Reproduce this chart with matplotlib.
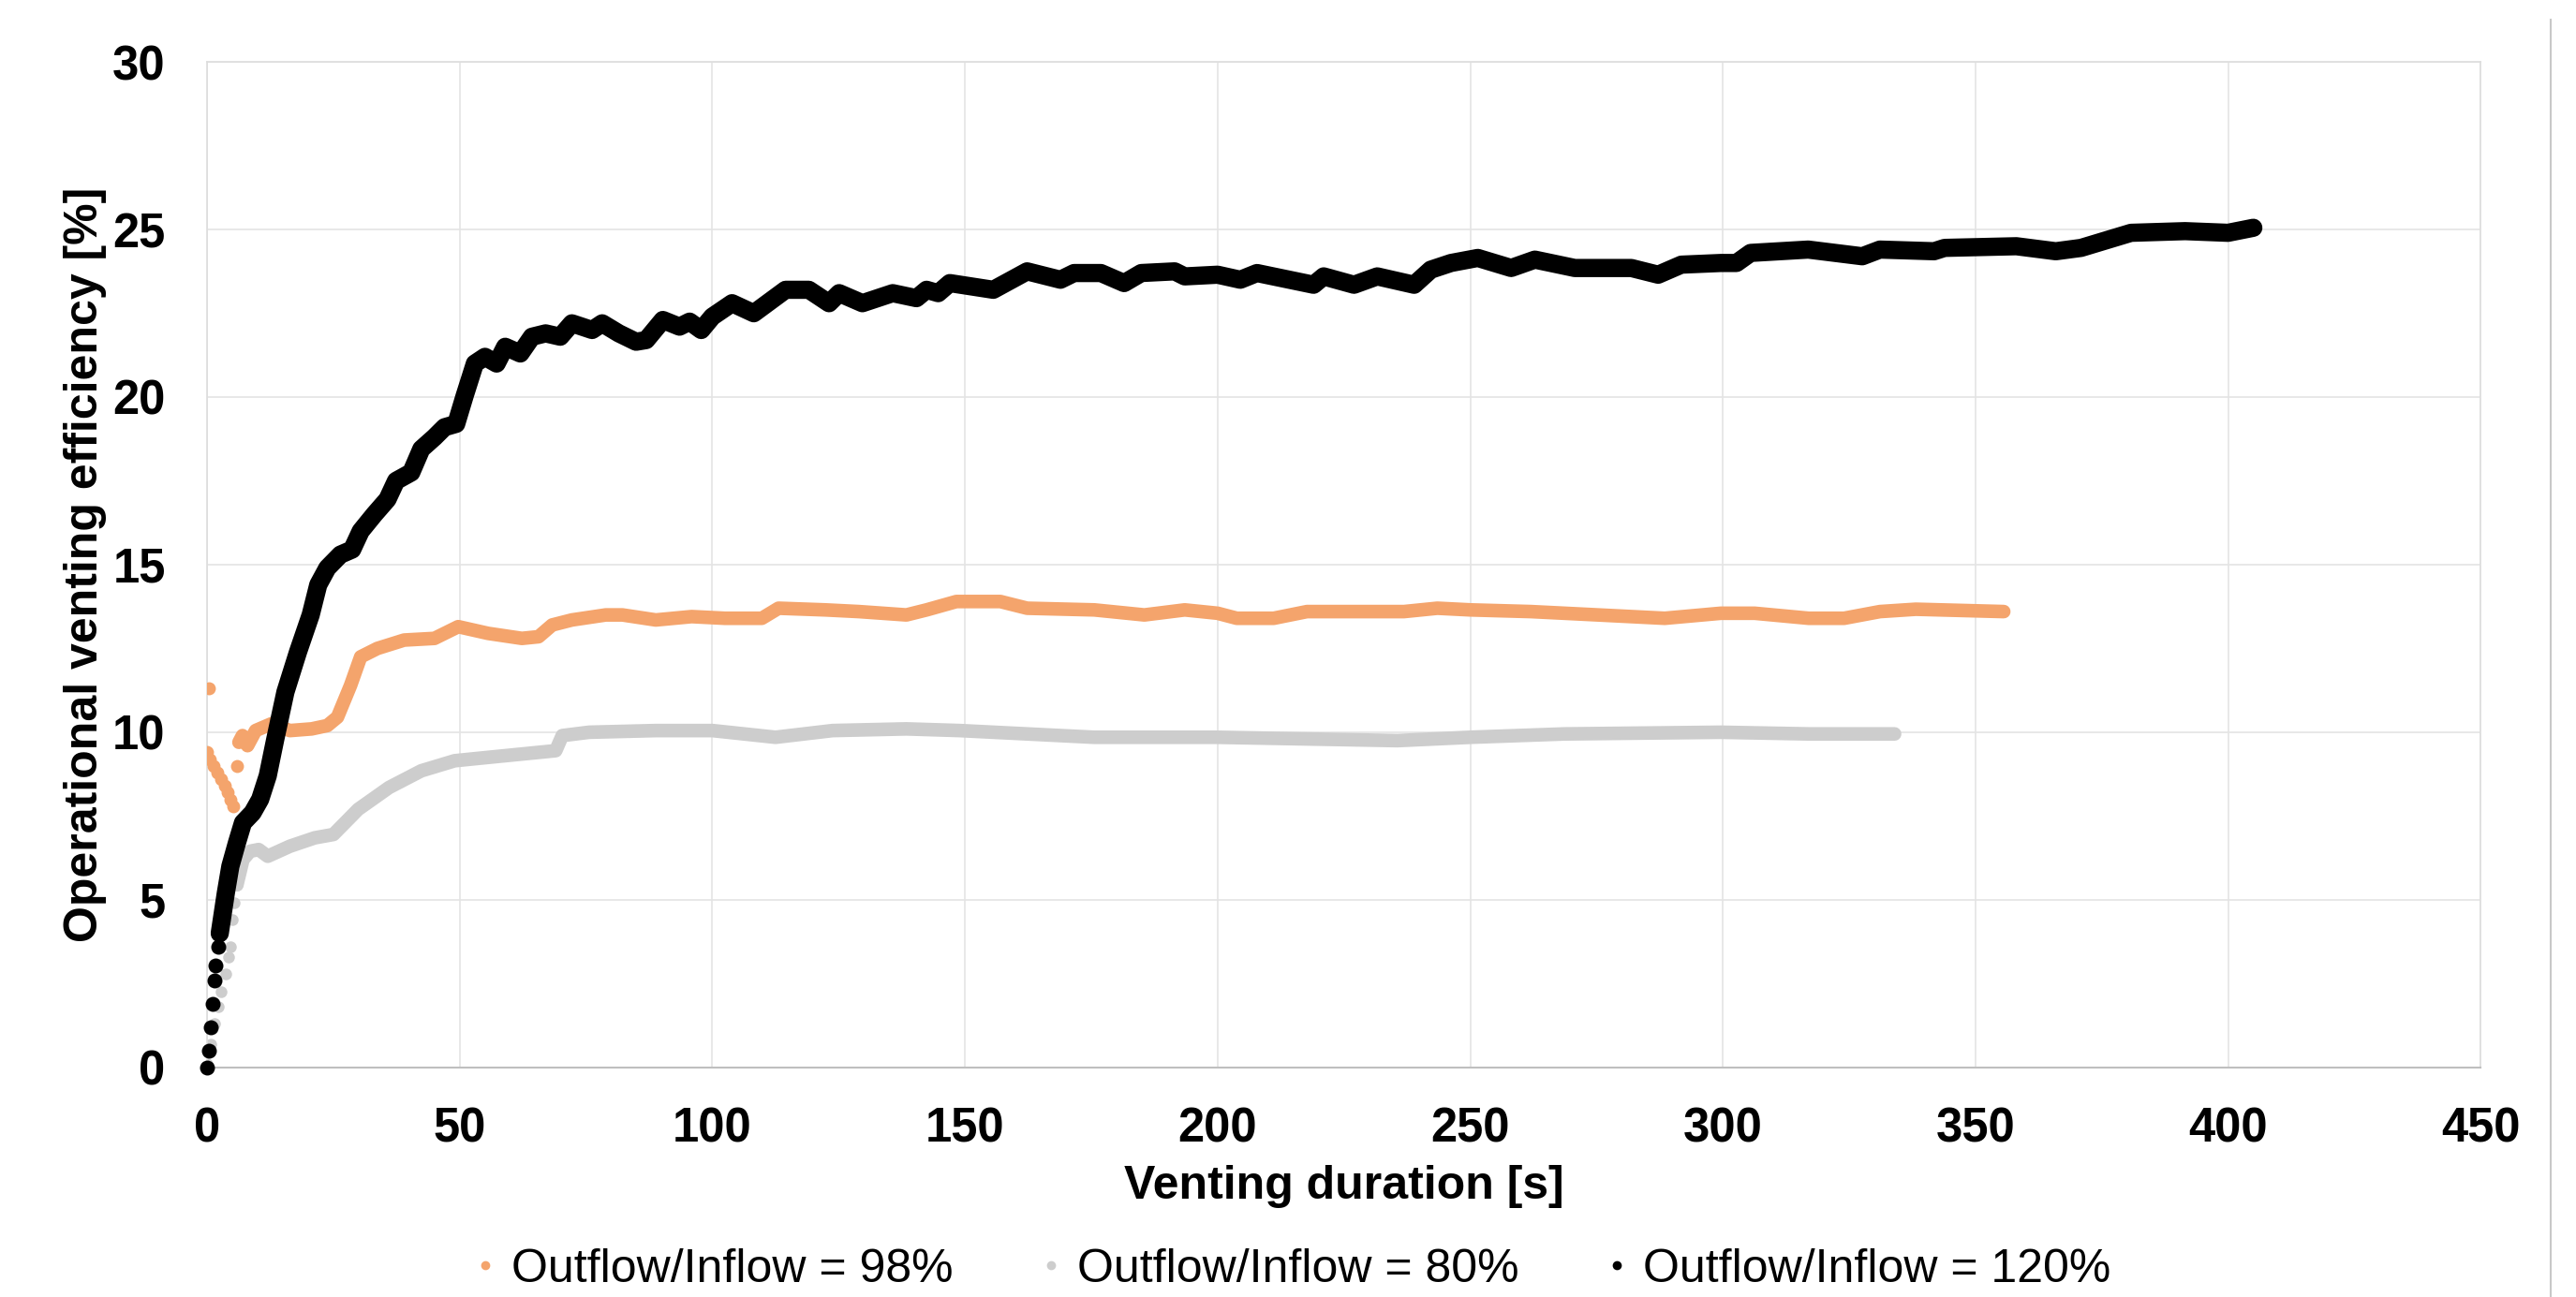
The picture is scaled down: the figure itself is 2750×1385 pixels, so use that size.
import matplotlib
matplotlib.use('Agg')
import matplotlib.pyplot as plt
from matplotlib.lines import Line2D

plt.rcParams['font.family'] = ['Liberation Sans', 'DejaVu Sans']

# Outflow/Inflow = 98%  (first points are loose dots, then a continuous trace)
orange_dots_t = [0.0, 0.3, 0.6, 1.2, 2.0, 2.8, 3.5, 4.0, 4.6, 5.2, 5.9]
orange_dots_v = [9.4, 11.3, 9.2, 9.0, 8.8, 8.6, 8.4, 8.2, 8.0, 7.8, 9.0]
orange_t = [6.3, 7.0, 8.0, 9.6, 12.7, 16.4, 20.7, 23.8, 25.8, 28.4, 30.4, 33.7, 39.0,
            45.0, 49.7, 55.6, 62.3, 65.6, 68.3, 72.2, 78.9, 82.2, 88.8, 95.9, 102.5,
            109.8, 113.1, 122.4, 129.0, 138.4, 142.4, 148.3, 157.0, 162.3, 175.6,
            185.5, 193.5, 200.0, 203.8, 211.1, 217.7, 236.9, 243.5, 250.1, 262.0,
            275.3, 288.5, 299.6, 306.3, 317.0, 324.0, 331.1, 338.2, 355.6]
orange_v = [9.7, 9.9, 9.6, 10.05, 10.25, 10.05, 10.1, 10.2, 10.45, 11.4, 12.25, 12.5,
            12.75, 12.8, 13.15, 12.95, 12.8, 12.85, 13.2, 13.35, 13.5, 13.5, 13.35,
            13.45, 13.4, 13.4, 13.7, 13.65, 13.6, 13.5, 13.65, 13.9, 13.9, 13.7, 13.65,
            13.5, 13.65, 13.55, 13.4, 13.4, 13.6, 13.6, 13.7, 13.65, 13.6, 13.5, 13.4,
            13.55, 13.55, 13.4, 13.4, 13.6, 13.67, 13.6]

# Outflow/Inflow = 80%
gray_dots_t = [0.0, 0.8, 1.5, 2.2, 2.8, 3.6, 4.3, 4.6, 4.9, 5.3, 5.9]
gray_dots_v = [0.1, 0.7, 1.3, 1.8, 2.25, 2.8, 3.3, 3.6, 4.4, 4.9, 5.45]
gray_t = [5.9, 7.1, 8.5, 10.2, 12.0, 16.4, 21.3, 25.0, 29.9, 36.0, 42.4, 49.0, 55.6,
          62.3, 69.0, 70.3, 75.6, 88.8, 100.0, 112.5, 123.8, 138.4, 149.0, 162.3,
          175.6, 200.0, 235.6, 250.0, 268.7, 299.6, 317.0, 334.0]
gray_v = [5.45, 6.2, 6.45, 6.5, 6.3, 6.6, 6.85, 6.95, 7.7, 8.35, 8.85, 9.15, 9.25,
          9.35, 9.45, 9.9, 10.0, 10.05, 10.05, 9.85, 10.05, 10.1, 10.05, 9.95, 9.85,
          9.85, 9.75, 9.85, 9.95, 10.0, 9.95, 9.95]

# Outflow/Inflow = 120%
black_dots_t = [0.0, 0.3, 0.8, 1.05, 1.4, 1.7, 2.2, 2.5]
black_dots_v = [0.0, 0.5, 1.2, 1.9, 2.6, 3.05, 3.6, 4.0]
black_t = [2.5, 3.1, 3.7, 4.6, 5.9, 7.1, 9.0, 10.5, 12.0, 13.5, 15.5, 18.0, 20.5, 22.0,
           23.8, 26.4, 28.7, 30.4, 33.1, 35.7, 37.4, 40.4, 42.4, 45.0, 47.0, 49.3,
           51.0, 53.0, 55.0, 57.3, 59.0, 62.0, 64.3, 67.0, 69.9, 72.2, 76.2, 78.2,
           81.5, 84.9, 86.9, 90.2, 93.5, 95.5, 97.8, 100.0, 103.9, 108.2, 114.5,
           119.1, 123.1, 125.1, 129.7, 135.7, 140.4, 142.4, 144.7, 147.0, 155.6,
           162.3, 168.9, 171.6, 176.9, 181.5, 184.9, 191.5, 193.5, 200.0, 204.5,
           207.8, 219.0, 221.0, 227.0, 231.6, 238.9, 242.2, 246.2, 251.5, 258.1,
           262.8, 270.7, 281.9, 287.2, 291.8, 299.6, 302.7, 305.5, 316.9, 327.6,
           331.1, 341.8, 343.9, 358.1, 365.9, 370.9, 380.8, 391.5, 400.0, 405.0]
black_v = [4.0, 4.6, 5.2, 6.0, 6.7, 7.3, 7.6, 8.0, 8.7, 9.8, 11.2, 12.4, 13.5, 14.4,
           14.9, 15.3, 15.45, 16.0, 16.5, 16.95, 17.5, 17.75, 18.45, 18.8, 19.1, 19.2,
           20.05, 21.0, 21.2, 21.0, 21.5, 21.3, 21.8, 21.9, 21.8, 22.2, 22.0, 22.2,
           21.9, 21.65, 21.7, 22.3, 22.1, 22.25, 22.0, 22.4, 22.8, 22.5, 23.2, 23.2,
           22.8, 23.1, 22.8, 23.1, 22.95, 23.2, 23.1, 23.4, 23.2, 23.75, 23.5, 23.7,
           23.7, 23.4, 23.7, 23.75, 23.6, 23.65, 23.5, 23.7, 23.35, 23.6, 23.35, 23.6,
           23.35, 23.8, 24.0, 24.15, 23.85, 24.1, 23.85, 23.85, 23.65, 23.95, 24.0,
           24.0, 24.3, 24.4, 24.2, 24.4, 24.35, 24.45, 24.5, 24.35, 24.45, 24.9, 24.95,
           24.9, 25.05]

labels = ['Outflow/Inflow = 98%', 'Outflow/Inflow = 80%', 'Outflow/Inflow = 120%']
orange = '#F4A46C'
gray = '#CDCDCD'
black = '#000000'

fig = plt.figure(figsize=(27.5, 13.85), dpi=100)
ax = fig.add_axes([0.0804, 0.177, 0.8826, 0.7753])

ax.plot(orange_dots_t, orange_dots_v, 'o', color=orange, ms=10, mec='none', zorder=3)
ax.plot(orange_t, orange_v, '-', color=orange, lw=10.5, solid_capstyle='round',
        solid_joinstyle='round', zorder=3)
ax.plot(gray_dots_t, gray_dots_v, 'o', color=gray, ms=9, mec='none', zorder=2)
ax.plot(gray_t, gray_v, '-', color=gray, lw=10.5, solid_capstyle='round',
        solid_joinstyle='round', zorder=2)
ax.plot(black_dots_t, black_dots_v, 'o', color=black, ms=11.5, mec='none', zorder=4,
        clip_on=False)
ax.plot(black_t, black_v, '-', color=black, lw=14, solid_capstyle='round',
        solid_joinstyle='round', zorder=4)

ax.set_xlim(0, 450)
ax.set_ylim(0, 30)
ax.set_xticks(range(0, 451, 50))
ax.set_yticks(range(0, 31, 5))
ax.grid(True, color='#E4E4E4', lw=1.2)
ax.set_axisbelow(True)
for s in ['top', 'left', 'right']:
    ax.spines[s].set_color('#DDDDDD')
    ax.spines[s].set_linewidth(1.2)
ax.spines['bottom'].set_color('#BFBFBF')
ax.spines['bottom'].set_linewidth(1.5)
ax.tick_params(length=0, labelsize=36.5)
ax.tick_params(axis='x', pad=30)
ax.tick_params(axis='y', pad=32)
for lab in ax.get_xticklabels() + ax.get_yticklabels():
    lab.set_fontweight('bold')

ax.set_xlabel('Venting duration [s]', fontsize=36, fontweight='bold', labelpad=10)
ax.set_ylabel('Operational venting efficiency [%]', fontsize=36, fontweight='bold',
              labelpad=4)

handles = [Line2D([], [], ls='', marker='o', ms=7, color=c, mec='none')
           for c in (orange, gray, black)]
fig.legend(handles, labels, loc='center', bbox_to_anchor=(0.502, 0.021), ncol=3,
           frameon=False, fontsize=36, handlelength=0.4, handletextpad=0.35,
           columnspacing=1.9, borderpad=0)

# slide border on the right
fig.add_artist(Line2D([0.99, 0.99], [0, 0.985], transform=fig.transFigure,
                      color='#C8C8C8', lw=1.5))

fig.savefig('out.png', dpi=100)
